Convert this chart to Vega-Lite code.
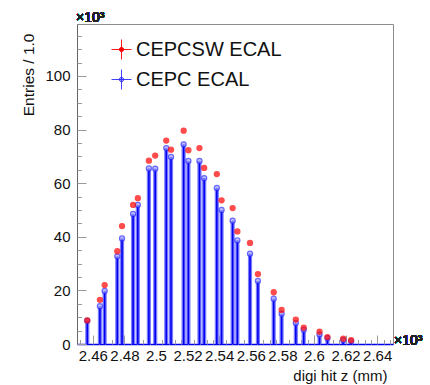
{
  "$schema": "https://vega.github.io/schema/vega-lite/v6.json",
  "width": 316,
  "height": 320,
  "autosize": {"type": "none"},
  "padding": {"left": 77, "top": 24, "right": 37, "bottom": 41},
  "background": "white",
  "config": {
    "font": "Liberation Sans",
    "view": {"stroke": "#8c8c8c", "strokeWidth": 1},
    "axis": {"labelFont": "Liberation Sans", "titleFont": "Liberation Sans", "labelColor": "#111", "titleColor": "#111", "titleFontWeight": "normal", "grid": false},
    "legend": {"labelFont": "Liberation Sans"}
  },
  "data": {
    "values": [
      {"z": 2456.5, "sample": "CEPC ECAL", "entries": 8.7},
      {"z": 2464.5, "sample": "CEPC ECAL", "entries": 14.1},
      {"z": 2467.5, "sample": "CEPC ECAL", "entries": 19.8},
      {"z": 2475.5, "sample": "CEPC ECAL", "entries": 32.7},
      {"z": 2478.5, "sample": "CEPC ECAL", "entries": 39.4},
      {"z": 2485.5, "sample": "CEPC ECAL", "entries": 48.5},
      {"z": 2488.5, "sample": "CEPC ECAL", "entries": 51.9},
      {"z": 2495.5, "sample": "CEPC ECAL", "entries": 65.5},
      {"z": 2499.5, "sample": "CEPC ECAL", "entries": 65.4},
      {"z": 2506.5, "sample": "CEPC ECAL", "entries": 73.1},
      {"z": 2509.5, "sample": "CEPC ECAL", "entries": 69.8},
      {"z": 2517.5, "sample": "CEPC ECAL", "entries": 74.5},
      {"z": 2520.5, "sample": "CEPC ECAL", "entries": 68.3},
      {"z": 2527.5, "sample": "CEPC ECAL", "entries": 68.3},
      {"z": 2530.5, "sample": "CEPC ECAL", "entries": 61.9},
      {"z": 2538.5, "sample": "CEPC ECAL", "entries": 58.2},
      {"z": 2541.5, "sample": "CEPC ECAL", "entries": 50.0},
      {"z": 2548.5, "sample": "CEPC ECAL", "entries": 46.0},
      {"z": 2551.5, "sample": "CEPC ECAL", "entries": 38.7},
      {"z": 2559.5, "sample": "CEPC ECAL", "entries": 33.7},
      {"z": 2564.5, "sample": "CEPC ECAL", "entries": 23.5},
      {"z": 2574.5, "sample": "CEPC ECAL", "entries": 16.9},
      {"z": 2579.5, "sample": "CEPC ECAL", "entries": 11.3},
      {"z": 2588.5, "sample": "CEPC ECAL", "entries": 7.8},
      {"z": 2593.5, "sample": "CEPC ECAL", "entries": 5.3},
      {"z": 2603.5, "sample": "CEPC ECAL", "entries": 3.5},
      {"z": 2608.5, "sample": "CEPC ECAL", "entries": 2.2},
      {"z": 2618.5, "sample": "CEPC ECAL", "entries": 1.4},
      {"z": 2623.5, "sample": "CEPC ECAL", "entries": 1.0},
      {"z": 2456.5, "sample": "CEPCSW ECAL", "entries": 8.8},
      {"z": 2464.5, "sample": "CEPCSW ECAL", "entries": 16.5},
      {"z": 2467.5, "sample": "CEPCSW ECAL", "entries": 22.0},
      {"z": 2475.5, "sample": "CEPCSW ECAL", "entries": 34.6},
      {"z": 2478.5, "sample": "CEPCSW ECAL", "entries": 44.0},
      {"z": 2485.5, "sample": "CEPCSW ECAL", "entries": 51.9},
      {"z": 2488.5, "sample": "CEPCSW ECAL", "entries": 54.4},
      {"z": 2495.5, "sample": "CEPCSW ECAL", "entries": 68.4},
      {"z": 2499.5, "sample": "CEPCSW ECAL", "entries": 70.3},
      {"z": 2506.5, "sample": "CEPCSW ECAL", "entries": 75.9},
      {"z": 2509.5, "sample": "CEPCSW ECAL", "entries": 72.5},
      {"z": 2517.5, "sample": "CEPCSW ECAL", "entries": 79.6},
      {"z": 2520.5, "sample": "CEPCSW ECAL", "entries": 72.3},
      {"z": 2527.5, "sample": "CEPCSW ECAL", "entries": 73.1},
      {"z": 2530.5, "sample": "CEPCSW ECAL", "entries": 65.7},
      {"z": 2538.5, "sample": "CEPCSW ECAL", "entries": 63.4},
      {"z": 2541.5, "sample": "CEPCSW ECAL", "entries": 53.6},
      {"z": 2548.5, "sample": "CEPCSW ECAL", "entries": 50.7},
      {"z": 2551.5, "sample": "CEPCSW ECAL", "entries": 42.0},
      {"z": 2559.5, "sample": "CEPCSW ECAL", "entries": 37.7},
      {"z": 2564.5, "sample": "CEPCSW ECAL", "entries": 26.1},
      {"z": 2574.5, "sample": "CEPCSW ECAL", "entries": 19.3},
      {"z": 2579.5, "sample": "CEPCSW ECAL", "entries": 12.7},
      {"z": 2588.5, "sample": "CEPCSW ECAL", "entries": 9.1},
      {"z": 2593.5, "sample": "CEPCSW ECAL", "entries": 6.1},
      {"z": 2603.5, "sample": "CEPCSW ECAL", "entries": 4.6},
      {"z": 2608.5, "sample": "CEPCSW ECAL", "entries": 2.6},
      {"z": 2618.5, "sample": "CEPCSW ECAL", "entries": 2.0},
      {"z": 2623.5, "sample": "CEPCSW ECAL", "entries": 1.4}
    ]
  },
  "resolve": {"axis": {"x": "independent", "y": "independent"}},
  "layer": [
    {
      "transform": [{"filter": "datum.sample === 'CEPC ECAL'"}],
      "mark": {"type": "rule", "color": "#7c7cff", "strokeWidth": 4.2},
      "encoding": {
        "x": {"field": "z", "type": "quantitative", "scale": {"domain": [2450, 2650], "nice": false, "zero": false},
          "axis": {"orient": "bottom", "values": [2460, 2480, 2500, 2520, 2540, 2560, 2580, 2600, 2620, 2640], "labelExpr": "format(datum.value / 1000, '.2~f')", "ticks": false, "labelFontSize": 15, "labelPadding": 4, "labelFlush": false, "labelOverlap": false, "domainColor": "#0000ee", "domainWidth": 1.5, "title": "digi hit z (mm)", "titleFontSize": 15, "titleAnchor": "start", "titleAlign": "right", "titleBaseline": "alphabetic", "titleX": 310, "titleY": 36.5}},
        "y": {"field": "entries", "type": "quantitative", "scale": {"domain": [0, 119.4], "nice": false, "zero": true},
          "axis": {"orient": "left", "values": [0, 20, 40, 60, 80, 100], "ticks": false, "labelFontSize": 15, "labelPadding": 7, "domainColor": "#666", "domainWidth": 1, "title": "Entries / 1.0", "titleFontSize": 15.5, "titleAngle": -90, "titleAnchor": "start", "titleAlign": "right", "titleBaseline": "middle", "titleX": -49, "titleY": 9}},
        "y2": {"datum": 0}
      }
    },
    {
      "transform": [{"filter": "datum.sample === 'CEPC ECAL'"}],
      "mark": {"type": "rule", "color": "#0000ee", "strokeWidth": 1.6},
      "encoding": {
        "x": {"field": "z", "type": "quantitative", "scale": {"domain": [2450, 2650], "nice": false, "zero": false},
          "axis": {"orient": "bottom", "values": [2460, 2480, 2500, 2520, 2540, 2560, 2580, 2600, 2620, 2640], "labels": false, "domain": false, "ticks": true, "tickSize": -9, "tickColor": "#9a9a9a", "tickWidth": 1, "title": null}},
        "y": {"field": "entries", "type": "quantitative", "scale": {"domain": [0, 119.4], "nice": false, "zero": true},
          "axis": {"orient": "left", "values": [0, 20, 40, 60, 80, 100], "labels": false, "domain": false, "ticks": true, "tickSize": -9, "tickColor": "#9a9a9a", "tickWidth": 1, "title": null}},
        "y2": {"datum": 0}
      }
    },
    {
      "mark": {"type": "point", "shape": "circle", "size": 26, "strokeWidth": 1.2, "filled": false},
      "encoding": {
        "x": {"field": "z", "type": "quantitative", "scale": {"domain": [2450, 2650], "nice": false, "zero": false},
          "axis": {"orient": "bottom", "values": [2452, 2456, 2464, 2468, 2472, 2476, 2484, 2488, 2492, 2496, 2504, 2508, 2512, 2516, 2524, 2528, 2532, 2536, 2544, 2548, 2552, 2556, 2564, 2568, 2572, 2576, 2584, 2588, 2592, 2596, 2604, 2608, 2612, 2616, 2624, 2628, 2632, 2636, 2644, 2648], "labels": false, "domain": false, "ticks": true, "tickSize": -4.5, "tickColor": "#9a9a9a", "tickWidth": 1, "title": null}},
        "y": {"field": "entries", "type": "quantitative", "scale": {"domain": [0, 119.4], "nice": false, "zero": true},
          "axis": {"orient": "left", "values": [5, 10, 15, 25, 30, 35, 45, 50, 55, 65, 70, 75, 85, 90, 95, 105, 110, 115], "labels": false, "domain": false, "ticks": true, "tickSize": -4.5, "tickColor": "#9a9a9a", "tickWidth": 1, "title": null}},
        "fill": {"field": "sample", "type": "nominal", "scale": {"domain": ["CEPCSW ECAL", "CEPC ECAL"], "range": ["#ff0000", "#a4a4ff"]},
          "legend": {"orient": "none", "legendX": 34, "legendY": 15, "title": null, "padding": 0, "symbolType": "M-1,0H1M0,-1V1M-0.22,0A0.22,0.22,0,1,1,0.22,0A0.22,0.22,0,1,1,-0.22,0Z", "symbolSize": 400, "symbolStrokeWidth": 0.9, "labelFontSize": 20, "labelColor": "#111", "labelOffset": 4, "rowPadding": 5, "symbolOpacity": 1}},
        "stroke": {"field": "sample", "type": "nominal", "scale": {"domain": ["CEPCSW ECAL", "CEPC ECAL"], "range": ["#ff0000", "#2a2aff"]},
          "legend": {"orient": "none", "legendX": 34, "legendY": 15, "title": null, "padding": 0, "symbolType": "M-1,0H1M0,-1V1M-0.22,0A0.22,0.22,0,1,1,0.22,0A0.22,0.22,0,1,1,-0.22,0Z", "symbolSize": 400, "symbolStrokeWidth": 0.9, "labelFontSize": 20, "labelColor": "#111", "labelOffset": 4, "rowPadding": 5, "symbolOpacity": 1}}
      }
    },
    {
      "mark": {"type": "text", "text": "×10³", "align": "left", "baseline": "alphabetic", "fontSize": 14, "color": "#222", "dx": -1, "dy": -2},
      "encoding": {
        "x": {"datum": 2450, "type": "quantitative", "scale": {"domain": [2450, 2650], "nice": false, "zero": false}, "axis": null},
        "y": {"datum": 119.4, "type": "quantitative", "scale": {"domain": [0, 119.4], "nice": false, "zero": true}, "axis": null}
      }
    },
    {
      "mark": {"type": "text", "text": "×10³", "align": "left", "baseline": "alphabetic", "fontSize": 14, "color": "#222", "dx": 1, "dy": 1},
      "encoding": {
        "x": {"datum": 2650, "type": "quantitative", "scale": {"domain": [2450, 2650], "nice": false, "zero": false}, "axis": null},
        "y": {"datum": 0, "type": "quantitative", "scale": {"domain": [0, 119.4], "nice": false, "zero": true}, "axis": null}
      }
    }
  ]
}
